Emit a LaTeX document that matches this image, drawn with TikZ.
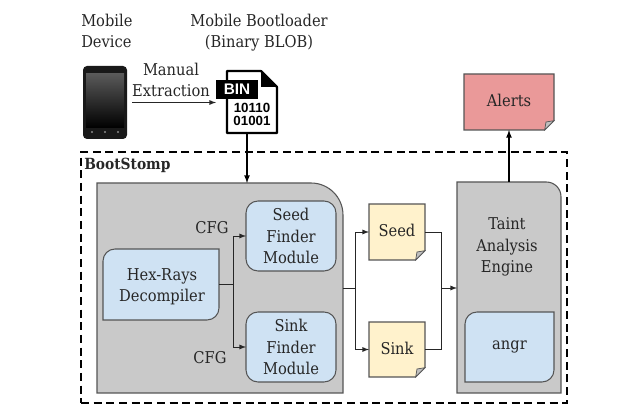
\documentclass[tikz,border=0pt]{standalone}
\usepackage{fontspec}
\setmainfont{DejaVu Serif Condensed}
\setsansfont{Liberation Sans}
\usetikzlibrary{backgrounds}

\definecolor{panelgray}{HTML}{C9C9C9}
\definecolor{boxblue}{HTML}{CFE2F3}
\definecolor{noteyellow}{HTML}{FFF2CC}
\definecolor{alertred}{HTML}{EA9999}
\definecolor{edgegray}{HTML}{555555}

\tikzset{
  label text/.style={font=\fontsize{12.2}{16}\selectfont,align=center,text=black!85,inner sep=0pt},
  area/.style 2 args={label text,minimum width=#1*.75pt,minimum height=#2*.75pt,outer sep=0pt},
  edge line/.style={draw=edgegray,line width=.8pt},
  link/.style={black!85,line width=.7pt,-latex},
  wire/.style={black!85,line width=.7pt}
}

% box with two round corners (top left and bottom right)
\newcommand{\softbox}[2]{
  \begin{pgfonlayer}{background}
    \draw[edge line,fill=boxblue] (#1.south west)
      [rounded corners=#2] -- (#1.north west) [sharp corners] -- (#1.north east)
      [rounded corners=#2] -- (#1.south east) [sharp corners] -- cycle;
  \end{pgfonlayer}
}
% note with folded corner
\newcommand{\notebox}[2]{
  \begin{pgfonlayer}{background}
    \draw[edge line,fill=#2] (#1.north west) -- (#1.north east)
      -- ([yshift=7pt]#1.south east) -- ([xshift=-7pt]#1.south east)
      -- (#1.south west) -- cycle;
    \draw[edge line,fill=black!25,line width=.5pt] ([yshift=7pt]#1.south east)
      -- ([xshift=-7pt]#1.south east) -- ([xshift=-6pt,yshift=6pt]#1.south east) -- cycle;
  \end{pgfonlayer}
}

\begin{document}
\begin{tikzpicture}[x=.75pt,y=-.75pt]
    \useasboundingbox (0,0) rectangle (640,420);

    %top labels
    \node[label text,align=left,anchor=north west] (devicelabel) at (81,14) {Mobile\\Device};
    \node[label text,anchor=north] (bloblabel) at (259,14) {Mobile Bootloader\\(Binary BLOB)};
    \node[label text,anchor=north] (extractlabel) at (171,63) {Manual\\Extraction};

    %phone
    \node[area={44}{73}] (phone) at (105,102.5) {};
    \begin{pgfonlayer}{background}
      \fill[black!90,rounded corners=3pt] (phone.south west) rectangle (phone.north east);
      \shade[top color=black!65,bottom color=black] (86,74) rectangle (124,128);
      \foreach \dotx in {92,105,118}
        \fill[black!45] (\dotx,132) circle (.8pt);
    \end{pgfonlayer}

    %binary file
    \node[area={50}{62}] (binfile) at (252,102) {};
    \begin{pgfonlayer}{background}
      \draw[black,line width=1.6pt,fill=white,line join=round] (binfile.south west) -- (binfile.north west)
        -- ([xshift=-12pt]binfile.north east) -- ([yshift=-12pt]binfile.north east)
        -- (binfile.south east) -- cycle;
      \fill[black] ([xshift=-12pt]binfile.north east) -- ([yshift=-12pt]binfile.north east)
        -- ([xshift=-12pt,yshift=-12pt]binfile.north east) -- cycle;
    \end{pgfonlayer}
    \node[area={42}{19},fill=black,text=white,font=\sffamily\bfseries\fontsize{11.5}{11.5}\selectfont] (binlabel) at (237,89.5) {BIN};
    \node[inner sep=0pt,align=center,text=black,font=\sffamily\bfseries\fontsize{10}{10}\selectfont] (bindata) at (252,114.5) {10110\\01001};

    %outer frame
    \node[area={486}{251},draw=black,line width=1pt,dash pattern=on 6pt off 3.5pt] (bootstomp) at (324,277.5) {};
    \node[label text,anchor=west,font=\bfseries\fontsize{11.5}{13}\selectfont] (bootstomplabel) at (84,165) {BootStomp};

    %finder panel
    \node[area={246}{210}] (finder) at (220,288) {};
    \begin{pgfonlayer}{background}
      \draw[edge line,fill=panelgray] (finder.south west) -- (finder.north west)
        [rounded corners=24pt] -- (finder.north east) [sharp corners] -- (finder.south east) -- cycle;
    \end{pgfonlayer}
    \node[area={116}{71}] (hex) at (161,284.5) {};
    \softbox{hex}{9pt}
    \node[label text] (hexlabel) at (162,287) {Hex-Rays\\Decompiler};
    \node[area={90}{70},edge line,fill=boxblue,rounded corners=9pt] (seedfinder) at (291,236) {Seed\\Finder\\Module};
    \node[area={90}{70},edge line,fill=boxblue,rounded corners=9pt] (sinkfinder) at (291,347) {Sink\\Finder\\Module};
    \node[label text] (cfgtop) at (212,228) {CFG};
    \node[label text] (cfgbottom) at (210,358) {CFG};

    %notes
    \node[area={56}{56}] (seednote) at (397,232) {\raisebox{3pt}{Seed}};
    \notebox{seednote}{noteyellow}
    \node[area={56}{55}] (sinknote) at (397,349.5) {\raisebox{2.2pt}{Sink}};
    \notebox{sinknote}{noteyellow}

    %taint panel
    \node[area={104}{211}] (taint) at (509,287.5) {};
    \begin{pgfonlayer}{background}
      \draw[edge line,fill=panelgray] (taint.south west) -- (taint.north west)
        [rounded corners=11pt] -- (taint.north east) [sharp corners] -- (taint.south east) -- cycle;
    \end{pgfonlayer}
    \node[label text] (taintlabel) at (507,247) {Taint\\Analysis\\Engine};
    \node[area={89}{70}] (angr) at (509.5,347) {\raisebox{-4.5pt}{angr}};
    \softbox{angr}{9pt}

    %alerts
    \node[area={90}{56}] (alerts) at (509,102) {\raisebox{3pt}{Alerts}};
    \notebox{alerts}{alertred}

    %connectors
    \coordinate (binout) at (247,133);
    \coordinate (hexsplit) at (233,284.5);
    \coordinate (notesplit) at (355,288);
    \coordinate (notemerge) at (441,288);
    \draw[link] ([xshift=4pt]phone.east) -- (phone.east -| binlabel.west);
    \draw[black,line width=1pt,-latex] (binout) -- (binout |- finder.north);
    \draw[wire] (hex.east) -- (hexsplit);
    \draw[link] (hexsplit) |- (seedfinder.west);
    \draw[link] (hexsplit) |- (sinkfinder.west);
    \draw[wire] (finder.east) -- (notesplit);
    \draw[link] (notesplit) |- (seednote.west);
    \draw[link] (notesplit) |- (sinknote.west);
    \draw[wire] (seednote.east) -| (notemerge);
    \draw[wire] (sinknote.east) -| (notemerge);
    \draw[link] (notemerge) -- (notemerge -| taint.west);
    \draw[black,line width=1pt,-latex] (taint.north) -- (alerts.south);
\end{tikzpicture}
\end{document}
